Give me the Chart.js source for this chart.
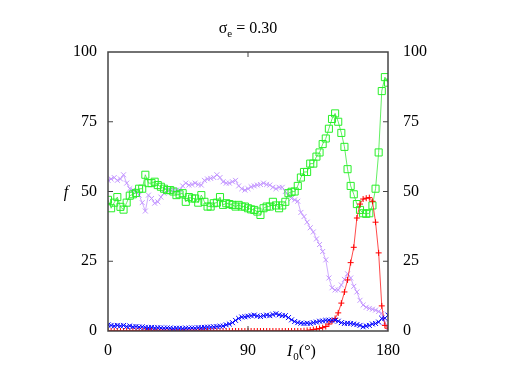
<!DOCTYPE html>
<html lang="en">
<head>
<meta charset="UTF-8">
<title>sigma_e = 0.30</title>
<script src="https://cdn.jsdelivr.net/npm/chart.js"></script>
<style>
    html, body { margin: 0; padding: 0; background: #fff; }
    #wrap { width: 523px; height: 366px; position: relative; }
</style>
</head>
<body>
<div id="wrap"><canvas id="fChart"></canvas></div>
<script>
// I0 in degrees
const angles = [
    0, 2, 4, 6, 8, 10, 12, 14, 16, 18,
    20, 22, 24, 26, 28, 30, 32, 34, 36, 38,
    40, 42, 44, 46, 48, 50, 52, 54, 56, 58,
    60, 62, 64, 66, 68, 70, 72, 74, 76, 78,
    80, 82, 84, 86, 88, 90, 92, 94, 96, 98,
    100, 102, 104, 106, 108, 110, 112, 114, 116, 118,
    120, 122, 124, 126, 128, 130, 132, 134, 136, 138,
    140, 142, 144, 146, 148, 150, 152, 154, 156, 158,
    160, 162, 164, 166, 168, 170, 172, 174, 176, 178,
    180
];
const redVals = [
    0, 0, 0, 0, 0, 0, 0, 0, 0, 0,
    0, 0, 0, 0, 0, 0, 0, 0, 0, 0,
    0, 0, 0, 0, 0, 0, 0, 0, 0, 0,
    0, 0, 0, 0, 0, 0, 0, 0, 0, 0,
    0, 0, 0, 0, 0, 0, 0, 0, 0, 0,
    0, 0, 0, 0, 0, 0, 0, 0, 0, 0,
    0, 0, 0, 0.1, 0.2, 0.3, 0.5, 0.7, 0.9, 1.2,
    1.6, 2.5, 3.5, 4.5, 6.5, 10, 14, 18.3, 24.5, 30,
    40.5, 45.5, 47.3, 47.6, 47.8, 46.5, 39, 28, 9, 2,
    1
];
const greenVals = [
    47, 44, 46, 48, 44.5, 43.5, 46, 48.5, 49, 49.5,
    51, 51, 56, 53, 53, 53.5, 52.3, 51.7, 51, 50.5,
    50.5, 50, 48.7, 49, 49.4, 46.3, 48, 47.5, 47.5, 46,
    48.7, 46.3, 44.6, 44.6, 45.8, 46, 48, 45.2, 45.8, 45.5,
    45.2, 44.6, 45.2, 44.6, 44.6, 44, 43.6, 43.4, 42.8, 41.6,
    44, 44.6, 44.6, 46.3, 45, 44, 45, 46.3, 49.4, 49.9,
    50, 52, 55, 57, 57, 60, 60, 62.5, 64, 67,
    69, 72.5, 76, 78, 75, 71, 66, 58, 52, 49,
    45.5, 43.4, 42.2, 42, 42.2, 45, 51, 64, 86, 91,
    89
];
const blueVals = [
    2.2, 2, 1.8, 2, 1.8, 2, 1.6, 1.8, 1.5, 1.6,
    1.4, 1.5, 1.3, 1.2, 1.3, 1.1, 1.2, 1.1, 1, 1.1,
    1, 0.9, 1, 1, 0.9, 1, 1, 1.1, 1, 1.2,
    1.2, 1.3, 1.4, 1.4, 1.5, 1.6, 1.7, 1.8, 2.2, 2.5,
    3, 3.8, 4.5, 5, 5.1, 5.3, 5.5, 5.7, 5.4, 5.2,
    5.5, 5.7, 5.5, 5.9, 6.2, 5.8, 5.5, 5.5, 4.8, 4,
    3.4, 3, 2.8, 2.7, 2.8, 2.7, 3, 3.2, 3.5, 3.6,
    3.8, 3.9, 3.8, 3.9, 3.5, 3, 2.7, 2.8, 2.7, 2.5,
    2.3, 2, 1.5, 1.8, 2, 2.5, 2.7, 3.2, 4.5, 4.6,
    5.7
];
const purpleVals = [
    54, 54.5, 55, 54, 54.5, 56, 53, 51, 50.5, 50,
    48.7, 46, 43, 48.7, 47.5, 45.8, 46.3, 48, 49.4, 50.5,
    50.5, 50.5, 50.5, 50.5, 52, 53, 52.3, 52.5, 53, 52.5,
    52.3, 54, 54.5, 54.7, 55, 56, 55, 53.5, 53, 53,
    53.5, 54, 52, 51, 50.5, 51, 51.7, 52, 52.3, 52.5,
    53, 52.5, 52.3, 51.5, 51, 51.5, 51.5, 50, 48.5, 47.5,
    47, 46.5, 42.5, 41, 39, 37, 35.5, 33, 31, 28.5,
    25.5, 19, 15.5, 14.7, 14.7, 16.5, 18.5, 20.5, 19, 16,
    14, 11, 9.3, 8.5, 8.1, 7.8, 7.5, 7, 6.3, 3,
    1
];
const xTicks = [0, 90, 180];
const yTicks = [0, 25, 50, 75, 100];

const serif = '"Liberation Serif", "DejaVu Serif", serif';

function pts(vals) {
    return angles.map((a, i) => ({ x: a, y: vals[i] }));
}

function series(vals, color, lineColor, style, radius, order) {
    return {
        data: pts(vals),
        borderColor: lineColor,
        backgroundColor: 'rgba(0,0,0,0)',
        borderWidth: 1,
        pointStyle: style,
        pointRadius: radius,
        pointBorderColor: color,
        pointBorderWidth: 1,
        pointBackgroundColor: 'rgba(0,0,0,0)',
        tension: 0,
        order: order
    };
}

// box, inward ticks and the texts
const frame = {
    id: 'frame',
    afterDraw(chart) {
        const { ctx, chartArea: a, scales } = chart;
        ctx.save();
        ctx.strokeStyle = '#444';
        ctx.lineWidth = 1.5;
        ctx.strokeRect(a.left, a.top, a.right - a.left, a.bottom - a.top);
        ctx.lineWidth = 1;
        ctx.beginPath();
        yTicks.slice(1, -1).forEach(v => {
            const py = scales.y.getPixelForValue(v);
            ctx.moveTo(a.left, py); ctx.lineTo(a.left + 5, py);
            ctx.moveTo(a.right, py); ctx.lineTo(a.right - 5, py);
        });
        xTicks.slice(1, -1).forEach(v => {
            const px = scales.x.getPixelForValue(v);
            ctx.moveTo(px, a.top); ctx.lineTo(px, a.top + 5);
            ctx.moveTo(px, a.bottom); ctx.lineTo(px, a.bottom - 5);
        });
        ctx.stroke();

        ctx.fillStyle = '#000';
        ctx.textBaseline = 'alphabetic';
        // title
        const cx = (a.left + a.right) / 2;
        ctx.font = '16px ' + serif;
        const w1 = ctx.measureText('\u03c3').width;
        const w3 = ctx.measureText(' = 0.30').width;
        ctx.font = '11px ' + serif;
        const w2 = ctx.measureText('e').width;
        let tx = cx - (w1 + w2 + w3) / 2;
        ctx.textAlign = 'left';
        ctx.font = '16px ' + serif;
        ctx.fillText('\u03c3', tx, 33);
        ctx.font = '11px ' + serif;
        ctx.fillText('e', tx + w1, 37);
        ctx.font = '16px ' + serif;
        ctx.fillText(' = 0.30', tx + w1 + w2, 33);

        // y label
        ctx.font = 'italic 16px ' + serif;
        ctx.textAlign = 'center';
        ctx.fillText('f', 66, (a.top + a.bottom) / 2 + 5);

        // x label
        ctx.textAlign = 'left';
        let lx = 287;
        ctx.font = 'italic 16px ' + serif;
        ctx.fillText('I', lx, 356);
        lx += ctx.measureText('I').width + 1;
        ctx.font = '11px ' + serif;
        ctx.fillText('0', lx, 360);
        lx += ctx.measureText('0').width;
        ctx.font = '16px ' + serif;
        ctx.fillText('(\u00b0)', lx, 356);
        ctx.restore();
    }
};

const yScale = (pos, width, pad) => ({
    type: 'linear',
    position: pos,
    min: 0,
    max: 100,
    afterBuildTicks: s => { s.ticks = yTicks.map(v => ({ value: v })); },
    afterFit: s => { s.width = width; },
    grid: { display: false, drawTicks: false },
    border: { display: false },
    ticks: { padding: pad, color: '#000', font: { family: serif, size: 16 } }
});

new Chart(document.getElementById('fChart'), {
    type: 'line',
    data: {
        datasets: [
            series(purpleVals, 'rgb(195,150,255)', 'rgba(195,150,255,0.8)', 'crossRot', 3.5, 4),
            series(greenVals, 'rgb(40,240,40)', 'rgba(60,235,60,0.8)', 'rect', 5, 3),
            series(redVals, 'rgb(255,0,0)', 'rgba(255,30,30,0.8)', 'cross', 3, 2),
            series(blueVals, 'rgb(0,0,255)', 'rgba(0,0,255,0.8)', 'crossRot', 3.5, 1)
        ]
    },
    options: {
        responsive: true,
        maintainAspectRatio: false,
        animation: false,
        layout: { padding: { top: 52, left: 0, right: 0, bottom: 0 } },
        plugins: { legend: { display: false }, tooltip: { enabled: false } },
        scales: {
            x: {
                type: 'linear',
                min: 0,
                max: 180,
                afterBuildTicks: s => { s.ticks = xTicks.map(v => ({ value: v })); },
                afterFit: s => { s.height = 35; },
                grid: { display: false, drawTicks: false },
                border: { display: false },
                ticks: { padding: 10, color: '#000', font: { family: serif, size: 16 } }
            },
            y: yScale('left', 108, 11),
            y2: yScale('right', 135, 15)
        }
    },
    plugins: [frame]
});
</script>
</body>
</html>
